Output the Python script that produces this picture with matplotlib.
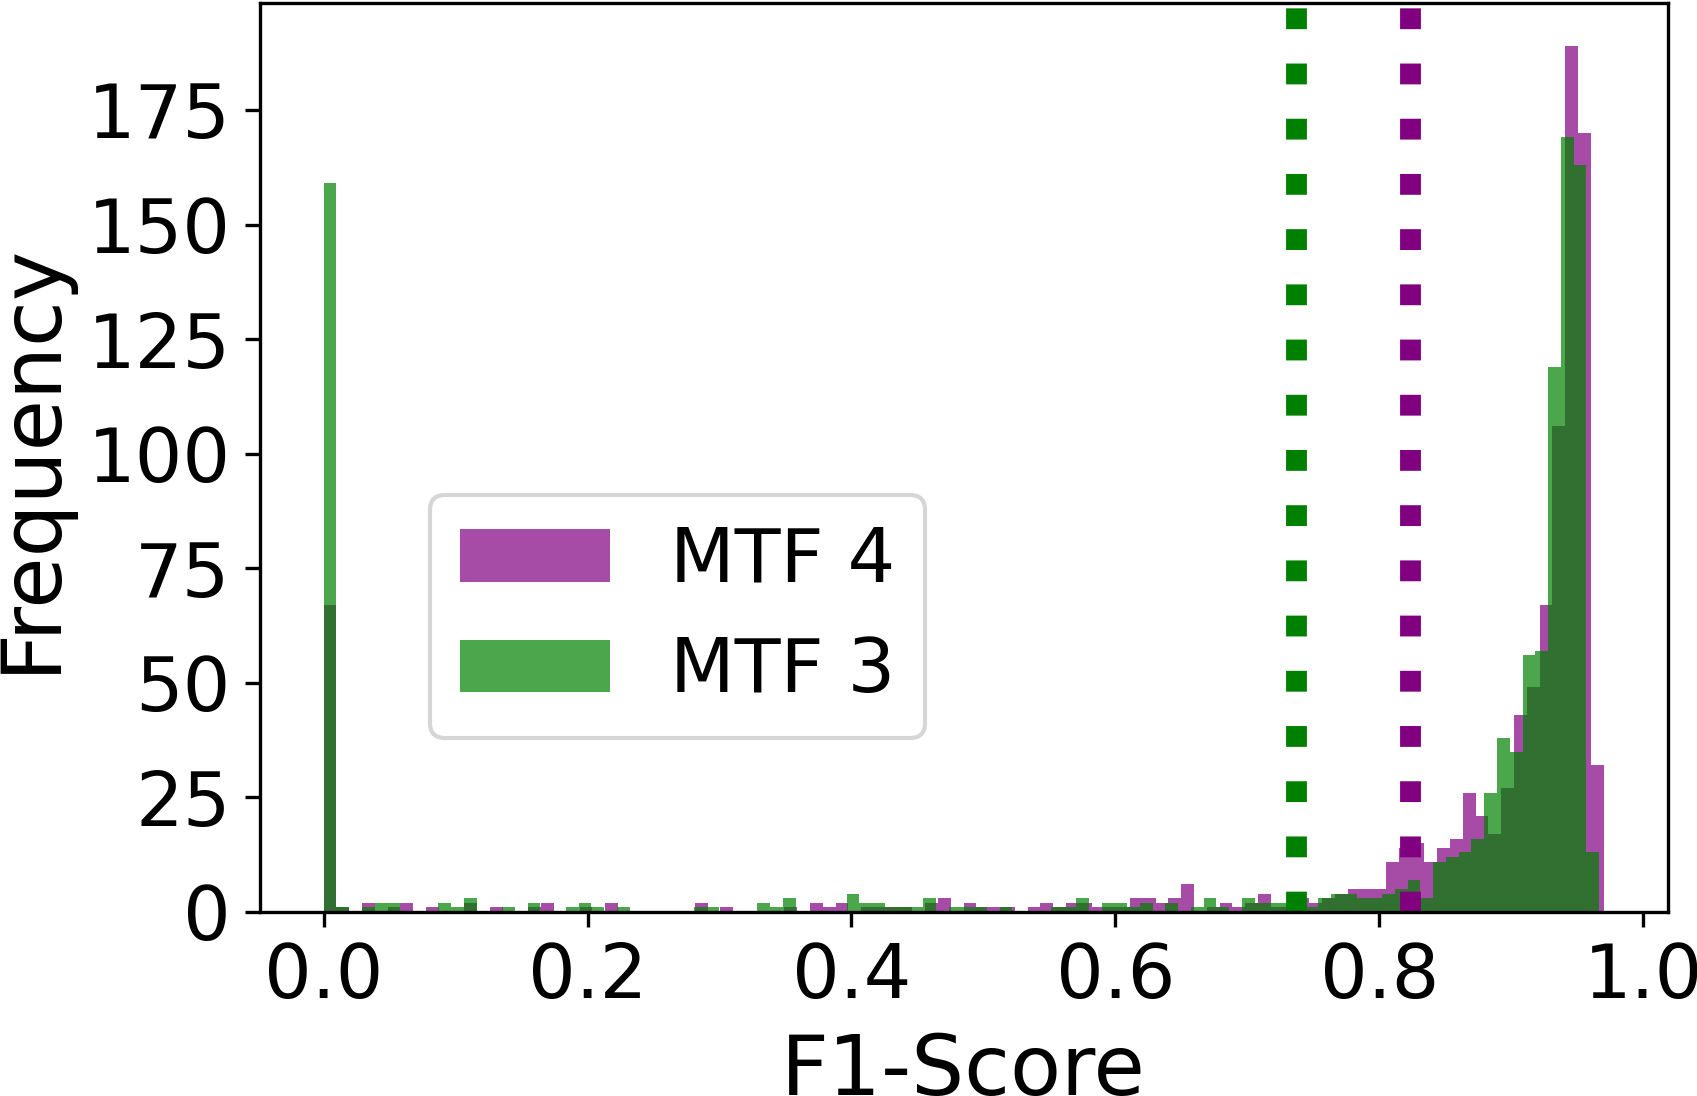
import numpy as np
import matplotlib
matplotlib.use("Agg")
import matplotlib.pyplot as plt
from matplotlib.ticker import MultipleLocator

# bin counts, 100 bins per model
mtf4_counts = [67, 1, 0, 2, 0, 1, 2, 0, 1, 0,
               0, 2, 0, 1, 0, 0, 1, 2, 0, 0,
               1, 0, 2, 0, 0, 0, 0, 0, 0, 2,
               0, 1, 0, 0, 0, 0, 1, 0, 2, 1,
               2, 0, 1, 1, 1, 1, 0, 2, 3, 0,
               2, 1, 1, 1, 0, 1, 2, 1, 2, 2,
               1, 1, 1, 3, 3, 2, 3, 6, 0, 1,
               2, 1, 2, 4, 1, 1, 3, 2, 3, 4,
               5, 5, 5, 11, 14, 15, 11, 14, 16, 26,
               21, 17, 27, 43, 49, 67, 106, 189, 170, 32]
mtf3_counts = [159, 1, 0, 1, 2, 2, 0, 0, 0, 2,
               1, 3, 0, 0, 1, 0, 2, 0, 0, 1,
               2, 1, 0, 1, 0, 0, 0, 0, 0, 1,
               1, 0, 0, 0, 2, 1, 3, 0, 0, 0,
               0, 4, 2, 2, 1, 1, 1, 3, 0, 1,
               1, 1, 0, 1, 0, 0, 0, 1, 1, 3,
               0, 2, 2, 1, 2, 0, 2, 0, 1, 3,
               1, 0, 3, 2, 2, 2, 2, 1, 3, 4,
               4, 3, 3, 4, 5, 7, 3, 11, 12, 13,
               16, 26, 38, 35, 56, 57, 119, 169, 163, 13]

# score range of each model (min, max) and mean F1
mtf4_range = (0.0, 0.970)
mtf3_range = (0.0, 0.9665)
mtf4_mean = 0.823
mtf3_mean = 0.737

plt.rcParams["font.size"] = 18

fig = plt.figure(figsize=(1697 / 300, 1096 / 300), dpi=300)
ax = fig.add_axes([0.1530, 0.1679, 0.8297, 0.8298])

edges4 = np.linspace(mtf4_range[0], mtf4_range[1], len(mtf4_counts) + 1)
edges3 = np.linspace(mtf3_range[0], mtf3_range[1], len(mtf3_counts) + 1)
centers4 = (edges4[:-1] + edges4[1:]) / 2
centers3 = (edges3[:-1] + edges3[1:]) / 2

ax.hist(centers4, bins=edges4, weights=mtf4_counts, color="purple", alpha=0.7, label="MTF 4")
ax.hist(centers3, bins=edges3, weights=mtf3_counts, color="green", alpha=0.7, label="MTF 3")

ax.axvline(mtf3_mean, color="green", linestyle=":", linewidth=5)
ax.axvline(mtf4_mean, color="purple", linestyle=":", linewidth=5)

ax.yaxis.set_major_locator(MultipleLocator(25))
ax.set_xlabel("F1-Score", fontsize=20)
ax.set_ylabel("Frequency", fontsize=20)
ax.legend(loc="upper left", bbox_to_anchor=(0.121, 0.4585), borderaxespad=0)

fig.savefig("out.png", dpi=300)
